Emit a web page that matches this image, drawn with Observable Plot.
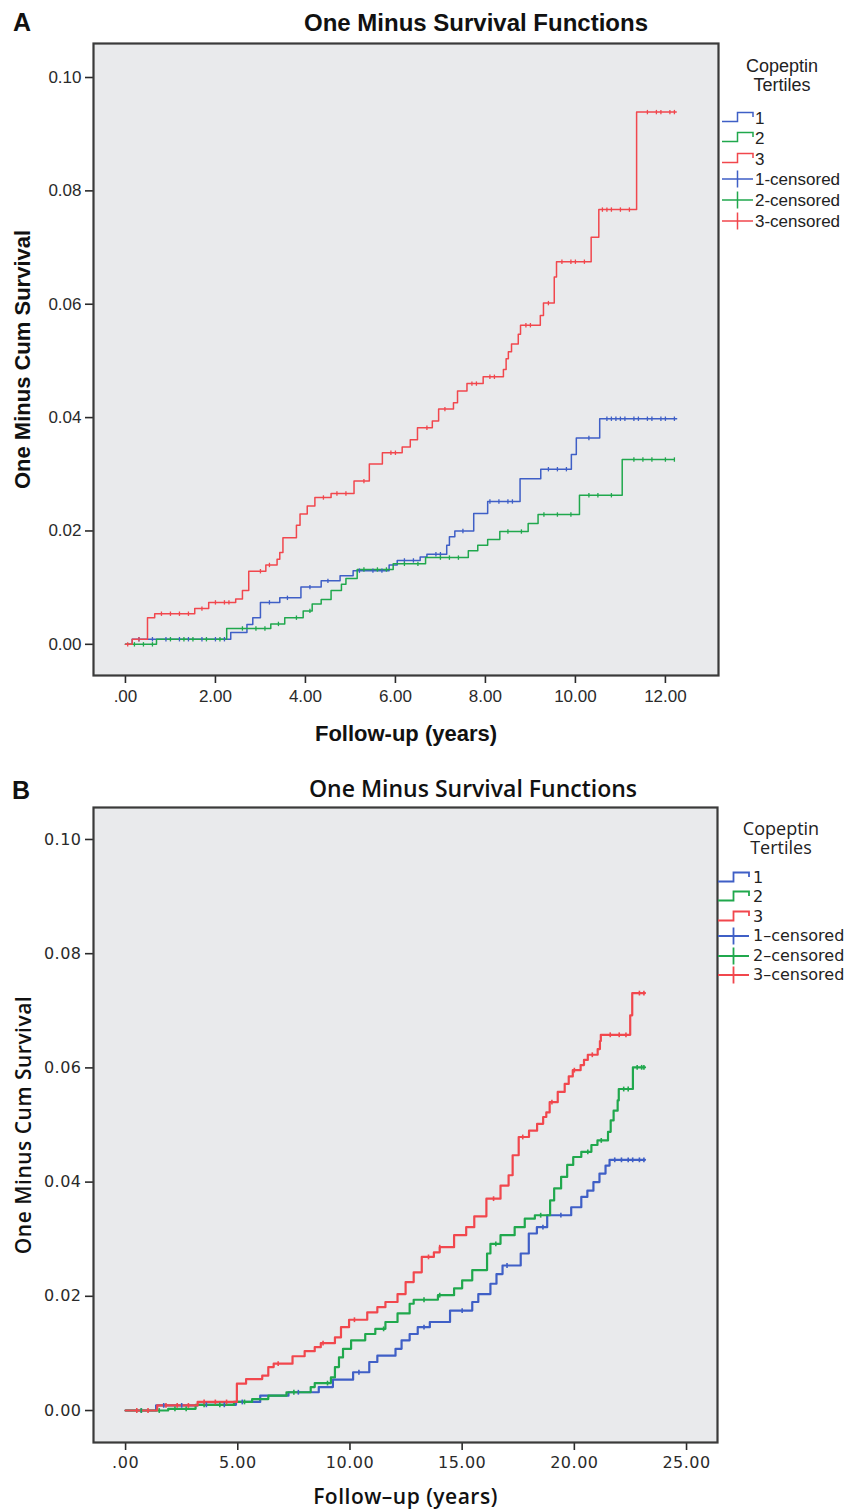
<!DOCTYPE html>
<html><head><meta charset="utf-8">
<script src="https://cdn.jsdelivr.net/npm/d3@7"></script>
<script src="https://cdn.jsdelivr.net/npm/@observablehq/plot@0.6"></script>
<style>
html,body{margin:0;padding:0;background:#fff;}
#page{position:relative;width:846px;height:1511px;overflow:hidden;background:#fff;}
.abs{position:absolute;white-space:nowrap;}
.pn svg{display:block;}
</style></head><body>
<div id="page"></div>
<script>
// ---------- categories / labels ----------
const tertiles = ["1", "2", "3"];
const colors = ["#3f5fc6", "#20a84d", "#f1474d"];
const legendHeader = ["Copeptin", "Tertiles"];
const legendLabelsA = ["1", "2", "3", "1-censored", "2-censored", "3-censored"];
const legendLabelsB = ["1", "2", "3", "1–censored", "2–censored", "3–censored"];
const titleA = "One Minus Survival Functions";
const titleB = "One Minus Survival Functions";
const yTitleA = "One Minus Cum Survival";
const yTitleB = "One Minus Cum Survival";
const xTitleA = "Follow-up (years)";
const xTitleB = "Follow–up (years)";

const yTicks = [0, 0.02, 0.04, 0.06, 0.08, 0.10];
const yTickLabels = ["0.00", "0.02", "0.04", "0.06", "0.08", "0.10"];
const xTicksA = [0, 2, 4, 6, 8, 10, 12];
const xTickLabelsA = [".00", "2.00", "4.00", "6.00", "8.00", "10.00", "12.00"];
const xTicksB = [0, 5, 10, 15, 20, 25];
const xTickLabelsB = [".00", "5.00", "10.00", "15.00", "20.00", "25.00"];

// ---------- Panel A data (years, 1 - cum survival) ----------
const a1_t = [0, 0.15, 2.34, 2.7, 2.83, 3.0, 3.43, 3.9, 4.35, 4.77, 5.06, 5.86, 6.04, 6.55, 6.7, 7.14, 7.2, 7.32, 7.74, 8.05, 8.77, 9.23, 9.91, 10.02, 10.54];
const a1_v = [0, 0.0009, 0.0021, 0.0035, 0.0047, 0.0074, 0.0082, 0.0101, 0.0112, 0.0121, 0.013, 0.014, 0.0148, 0.0154, 0.0159, 0.0175, 0.019, 0.02, 0.0231, 0.0252, 0.0292, 0.0309, 0.0335, 0.0364, 0.0398];
const a1_end = 12.25;
const a1_cens = [0.3, 0.6, 0.9, 1.2, 1.4, 1.7, 2.0, 2.2, 3.2, 3.6, 4.1, 4.5, 5.2, 5.5, 5.7, 6.2, 6.4, 6.9, 7.0, 7.5, 8.1, 8.3, 8.5, 8.6, 9.4, 9.6, 9.8, 10.3, 10.7, 10.8, 10.9, 11.0, 11.1, 11.3, 11.4, 11.6, 11.7, 11.9, 12.0, 12.2];

const a2_t = [0, 0.69, 2.25, 3.23, 3.54, 3.95, 4.15, 4.35, 4.57, 4.8, 4.9, 5.15, 5.95, 6.67, 7.62, 7.83, 8.05, 8.32, 8.95, 9.17, 10.09, 11.04];
const a2_v = [0, 0.0009, 0.0028, 0.0036, 0.0047, 0.0059, 0.0071, 0.0079, 0.0095, 0.0106, 0.0116, 0.0132, 0.0142, 0.0153, 0.0165, 0.0175, 0.0185, 0.0199, 0.0213, 0.0229, 0.0263, 0.0326];
const a2_end = 12.18;
const a2_cens = [0.2, 0.4, 0.6, 1.0, 1.3, 1.5, 1.8, 2.1, 2.6, 2.9, 3.1, 3.4, 3.8, 4.1, 5.3, 5.6, 5.8, 6.2, 6.5, 7.0, 7.2, 7.4, 8.5, 8.8, 9.3, 9.6, 9.9, 10.3, 10.5, 10.8, 11.3, 11.5, 11.7, 12.0, 12.2];

const a3_t = [0, 0.15, 0.49, 0.65, 1.54, 1.85, 2.45, 2.6, 2.74, 3.12, 3.37, 3.43, 3.5, 3.8, 3.88, 4.04, 4.21, 4.57, 5.08, 5.42, 5.71, 6.15, 6.33, 6.49, 6.82, 6.96, 7.29, 7.38, 7.59, 7.95, 8.4, 8.46, 8.51, 8.58, 8.73, 8.78, 9.22, 9.29, 9.53, 9.58, 10.35, 10.52, 11.36];
const a3_v = [0, 0.0009, 0.0047, 0.0054, 0.0063, 0.0074, 0.008, 0.0095, 0.0129, 0.014, 0.015, 0.0162, 0.0188, 0.021, 0.023, 0.0244, 0.0259, 0.0266, 0.0288, 0.0318, 0.0338, 0.0348, 0.0361, 0.0382, 0.0394, 0.0415, 0.0426, 0.0447, 0.046, 0.0472, 0.0485, 0.0504, 0.0516, 0.053, 0.0547, 0.0563, 0.058, 0.0602, 0.0648, 0.0675, 0.0718, 0.0767, 0.0939];
const a3_end = 12.24;
const a3_cens = [0.05, 0.3, 0.8, 1.0, 1.2, 1.4, 1.7, 2.0, 2.2, 2.3, 3.0, 3.2, 4.4, 4.7, 4.9, 5.3, 5.9, 6.0, 6.7, 7.1, 7.7, 7.8, 8.1, 8.2, 8.9, 9.0, 9.4, 9.7, 9.9, 10.0, 10.2, 10.6, 10.7, 10.8, 11.0, 11.2, 11.6, 11.8, 11.9, 12.1, 12.2];

// ---------- Panel B data ----------
const b1_t = [0, 1.36, 3.21, 4.92, 6.0, 7.26, 8.61, 9.24, 10.14, 10.86, 11.22, 12.03, 12.3, 12.66, 13.02, 13.56, 14.46, 15.45, 15.72, 16.26, 16.53, 16.8, 17.61, 17.97, 18.33, 18.79, 19.86, 20.31, 20.58, 20.85, 21.12, 21.39, 21.57];
const b1_v = [0, 0.0009, 0.001, 0.0015, 0.0026, 0.0032, 0.0041, 0.0054, 0.0067, 0.0085, 0.0096, 0.0108, 0.0123, 0.0134, 0.0146, 0.0155, 0.0175, 0.019, 0.0204, 0.0222, 0.0239, 0.0254, 0.0275, 0.031, 0.0321, 0.0342, 0.0356, 0.0374, 0.0385, 0.04, 0.0415, 0.0429, 0.0439];
const b1_end = 23.15;
const b1_cens = [0.7, 1.7, 2.5, 3.6, 4.4, 5.2, 7.7, 10.4, 13.3, 15.0, 17.0, 18.6, 19.4, 21.8, 22.1, 22.4, 22.6, 22.9, 23.1];

const b2_t = [0, 1.9, 3.12, 4.83, 5.64, 6.36, 7.17, 8.25, 8.43, 9.15, 9.33, 9.51, 9.69, 10.05, 10.68, 11.13, 11.58, 12.12, 12.66, 12.84, 13.92, 14.64, 15.0, 15.45, 16.11, 16.26, 16.71, 17.34, 17.79, 18.24, 18.92, 19.1, 19.41, 19.68, 19.95, 20.31, 20.76, 21.03, 21.5, 21.62, 21.75, 21.93, 21.98, 22.61];
const b2_v = [0, 0.0003, 0.001, 0.0015, 0.002, 0.0026, 0.0032, 0.0041, 0.0048, 0.0058, 0.0076, 0.0093, 0.0108, 0.0123, 0.0134, 0.0143, 0.0155, 0.017, 0.0187, 0.0194, 0.0202, 0.0214, 0.0228, 0.0246, 0.0275, 0.0292, 0.0307, 0.0321, 0.0336, 0.0342, 0.0368, 0.0389, 0.0409, 0.043, 0.0444, 0.0453, 0.0465, 0.0473, 0.0488, 0.0508, 0.0525, 0.0543, 0.0563, 0.0601];
const b2_end = 23.15;
const b2_cens = [0.7, 1.5, 2.2, 2.7, 3.5, 4.2, 5.3, 7.5, 9.0, 11.5, 13.3, 14.0, 16.5, 18.5, 20.6, 21.2, 22.2, 22.4, 22.8, 23.0, 23.1];

const b3_t = [0, 1.41, 3.21, 4.96, 5.37, 6.09, 6.36, 6.6, 7.44, 7.98, 8.43, 8.7, 9.33, 9.6, 9.96, 10.77, 11.22, 11.58, 12.12, 12.48, 12.84, 13.2, 13.74, 14.0, 14.64, 15.18, 15.54, 16.08, 16.71, 17.07, 17.25, 17.52, 17.98, 18.34, 18.61, 18.75, 18.9, 19.26, 19.57, 19.75, 19.93, 20.28, 20.43, 20.6, 21.04, 21.14, 21.18, 22.49, 22.58];
const b3_v = [0, 0.0009, 0.0015, 0.0047, 0.0055, 0.0061, 0.0076, 0.0082, 0.0095, 0.0104, 0.0111, 0.0118, 0.0128, 0.0146, 0.0159, 0.0172, 0.0181, 0.019, 0.0204, 0.0225, 0.0242, 0.0269, 0.0277, 0.0286, 0.0307, 0.0321, 0.034, 0.0371, 0.0394, 0.0412, 0.0447, 0.0479, 0.049, 0.0502, 0.0514, 0.0522, 0.054, 0.0558, 0.0572, 0.0585, 0.0596, 0.0605, 0.0614, 0.0623, 0.0633, 0.0647, 0.0658, 0.0692, 0.0731];
const b3_end = 23.15;
const b3_cens = [0.5, 1.0, 1.8, 2.3, 2.8, 3.5, 4.0, 4.5, 6.8, 8.8, 10.2, 13.5, 14.0, 16.4, 17.7, 19.0, 20.0, 20.8, 21.6, 22.0, 22.3, 22.9, 23.1];

// ---------- helpers ----------
function stepRows(times, values, end, g) {
  const rows = times.map((t, i) => ({t, v: values[i], g}));
  rows.push({t: end, v: values[values.length - 1], g});
  return rows;
}
function censRows(times, values, cens, g) {
  return cens.map(t => ({t, v: values[Math.max(0, d3.bisectRight(times, t) - 1)], g}));
}
const tickSymbol = {
  draw(context, size) {
    const h = Math.sqrt(size / Math.PI);
    context.moveTo(0, -h);
    context.lineTo(0, h);
  }
};

const page = document.getElementById("page");
function addDiv(text, css) {
  const d = document.createElement("div");
  d.className = "abs";
  d.textContent = text;
  Object.assign(d.style, css);
  page.appendChild(d);
  return d;
}

function drawPanel(cfg) {
  let lines = [], cens = [];
  cfg.series.forEach((s, i) => {
    lines = lines.concat(stepRows(s.t, s.v, s.end, tertiles[i]));
    cens = cens.concat(censRows(s.t, s.v, s.c, tertiles[i]));
  });
  const plot = Plot.plot({
    width: 846, height: cfg.height,
    marginLeft: cfg.ml, marginRight: cfg.mr, marginTop: cfg.mt, marginBottom: cfg.mb,
    x: {domain: cfg.xDomain},
    y: {domain: cfg.yDomain},
    color: {domain: tertiles, range: colors},
    style: {fontFamily: cfg.tickFont, color: "#2a2a2a", background: "transparent", overflow: "visible", letterSpacing: cfg.ls},
    marks: [
      Plot.frame({fill: "#e9eaec", stroke: "none"}),
      Plot.axisX({ticks: cfg.xTicks, tickFormat: d => cfg.xLabels[cfg.xTicks.indexOf(d)], tickSize: 8, tickPadding: 6, fontSize: cfg.tickSize, label: null, strokeWidth: 1.6}),
      Plot.axisY({ticks: yTicks, tickFormat: d => yTickLabels[yTicks.indexOf(d)], tickSize: 8, tickPadding: 4, fontSize: cfg.tickSize, label: null, strokeWidth: 1.6}),
      Plot.line(lines, {x: "t", y: "v", z: "g", stroke: "g", curve: "step-after", strokeWidth: cfg.lw}),
      Plot.dot(cens, {x: "t", y: "v", stroke: "g", symbol: tickSymbol, r: cfg.cr, strokeWidth: cfg.cw}),
      Plot.frame({stroke: "#3a3a3a", strokeWidth: 2.2}),
      Plot.text([cfg.yTitle], {text: d => d, frameAnchor: "left", textAnchor: "middle", lineAnchor: "middle", dx: cfg.yTitleDx, rotate: -90, fontSize: cfg.titleSize, fontWeight: cfg.titleWeight, fontFamily: cfg.titleFont, fill: "#111"}),
      Plot.text([cfg.xTitle], {text: d => d, frameAnchor: "bottom", textAnchor: "middle", lineAnchor: "middle", dy: cfg.xTitleDy, fontSize: cfg.titleSize, fontWeight: cfg.titleWeight, fontFamily: cfg.titleFont, fill: "#111"})
    ]
  });
  const wrap = document.createElement("div");
  wrap.className = "abs pn";
  wrap.style.left = "0px";
  wrap.style.top = cfg.top + "px";
  wrap.appendChild(plot);
  page.appendChild(wrap);
}

function drawLegend(cfg) {
  // header as one two-line block, centred on cfg.hy
  addDiv(legendHeader.join("\n"), {left: (cfg.hx - 60) + "px", width: "120px", textAlign: "center", whiteSpace: "pre", top: (cfg.hy - cfg.hLine) + "px", fontSize: cfg.hSize + "px", lineHeight: cfg.hLine + "px", fontFamily: cfg.hFont, color: "#222"});
  cfg.labels.forEach((lab, i) => {
    const cy = cfg.rows[i];
    const col = colors[i % 3];
    const ns = "http://www.w3.org/2000/svg";
    const svg = document.createElementNS(ns, "svg");
    svg.setAttribute("width", 34); svg.setAttribute("height", 20);
    svg.style.position = "absolute";
    svg.style.left = cfg.sx + "px";
    svg.style.top = (cy - 10) + "px";
    const p = document.createElementNS(ns, "path");
    if (i < 3) p.setAttribute("d", "M0,13.5 H15.5 V4.5 H31 V9");
    else p.setAttribute("d", "M0,10 H31 M15.5,1.5 V18.5");
    p.setAttribute("fill", "none");
    p.setAttribute("stroke", col);
    p.setAttribute("stroke-width", cfg.sw);
    svg.appendChild(p);
    page.appendChild(svg);
    addDiv(lab, {left: cfg.tx + "px", top: (cy - cfg.tSize / 2) + "px", fontSize: cfg.tSize + "px", lineHeight: cfg.tSize + "px", fontFamily: cfg.tFont, color: "#222"});
  });
}

// ---------- Panel A ----------
addDiv("A", {left: "13px", top: "10px", fontSize: "25px", lineHeight: "25px", fontWeight: "bold", fontFamily: "'Liberation Sans', Arial, sans-serif", color: "#111"});
addDiv(titleA, {left: "226px", width: "500px", textAlign: "center", top: "11px", fontSize: "24px", lineHeight: "24px", fontWeight: "bold", fontFamily: "'Liberation Sans', Arial, sans-serif", color: "#111"});
drawPanel({
  top: 0, height: 760, ml: 93, mr: 128, mt: 43, mb: 85,
  xDomain: [-0.71, 13.18], yDomain: [-0.0055, 0.106],
  xTicks: xTicksA, xLabels: xTickLabelsA,
  series: [
    {t: a1_t, v: a1_v, end: a1_end, c: a1_cens},
    {t: a2_t, v: a2_v, end: a2_end, c: a2_cens},
    {t: a3_t, v: a3_v, end: a3_end, c: a3_cens}
  ],
  tickFont: "'Liberation Sans', Arial, sans-serif", tickSize: 17, ls: "0px",
  titleFont: "'Liberation Sans', Arial, sans-serif", titleSize: 22, titleWeight: "bold",
  yTitle: yTitleA, xTitle: xTitleA, yTitleDx: -71, xTitleDy: 58,
  lw: 1.5, cr: 2.2, cw: 1.3
});
drawLegend({
  hx: 782, hy: 75.5, hSize: 18, hLine: 19, hFont: "'Liberation Sans', Arial, sans-serif",
  labels: legendLabelsA, rows: [118, 138, 159, 179, 200, 221],
  sx: 722, tx: 755, tSize: 17, tFont: "'Liberation Sans', Arial, sans-serif", sw: 1.5
});

// ---------- Panel B ----------
addDiv("B", {left: "12px", top: "778px", fontSize: "25px", lineHeight: "25px", fontWeight: "bold", fontFamily: "'Liberation Sans', Arial, sans-serif", color: "#111"});
addDiv(titleB, {left: "223px", width: "500px", textAlign: "center", top: "777px", fontSize: "23px", lineHeight: "23px", fontWeight: "600", fontFamily: "'Open Sans', sans-serif", color: "#111"});
drawPanel({
  top: 760, height: 751, ml: 93, mr: 129, mt: 47, mb: 69,
  xDomain: [-1.43, 26.38], yDomain: [-0.0056, 0.1056],
  xTicks: xTicksB, xLabels: xTickLabelsB,
  series: [
    {t: b1_t, v: b1_v, end: b1_end, c: b1_cens},
    {t: b2_t, v: b2_v, end: b2_end, c: b2_cens},
    {t: b3_t, v: b3_v, end: b3_end, c: b3_cens}
  ],
  tickFont: "'DejaVu Sans', sans-serif", tickSize: 16, ls: "0.5px",
  titleFont: "'Open Sans', sans-serif", titleSize: 21, titleWeight: "600",
  yTitle: yTitleB, xTitle: xTitleB, yTitleDx: -69, xTitleDy: 55,
  lw: 2.2, cr: 2.4, cw: 1.6
});
drawLegend({
  hx: 781, hy: 837.5, hSize: 18, hLine: 19, hFont: "'Open Sans', sans-serif",
  labels: legendLabelsB, rows: [878, 897, 917, 936, 956, 975],
  sx: 718, tx: 753, tSize: 16, tFont: "'DejaVu Sans', sans-serif", sw: 1.8
});
</script></body></html>
